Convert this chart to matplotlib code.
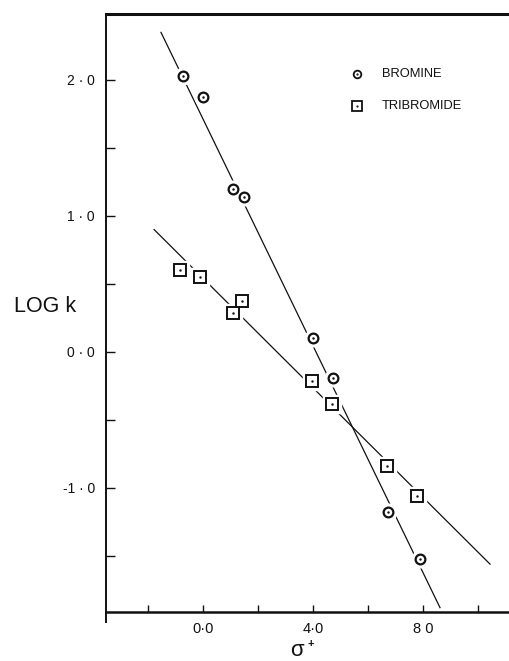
import matplotlib
matplotlib.use("Agg")
import matplotlib.pyplot as plt

# substituent constant (x10) and log k for each reagent
bromine_x = [-0.73, 0.0, 1.09, 1.49, 4.0, 4.73, 6.73, 7.9]
bromine_y = [2.03, 1.875, 1.2, 1.14, 0.10, -0.19, -1.18, -1.52]
tribromide_x = [-0.84, -0.1, 1.09, 1.42, 3.96, 4.69, 6.7, 7.8]
tribromide_y = [0.60, 0.55, 0.29, 0.375, -0.21, -0.38, -0.84, -1.06]

# end points of the fitted correlation lines
bromine_fit_x = [-1.53, 8.62]
bromine_fit_y = [2.35, -1.88]
tribromide_fit_x = [-1.78, 10.44]
tribromide_fit_y = [0.90, -1.56]

x_major = [0, 4, 8]
x_major_labels = ["0·0", "4·0", "8 0"]
x_minor = [-2, 2, 6, 10]
y_major = [2, 1, 0, -1]
y_major_labels = ["2 · 0", "1 · 0", "0 · 0", "-1 · 0"]
y_minor = [1.5, 0.5, -0.5, -1.5]

plt.rcParams["font.family"] = ["Liberation Sans", "DejaVu Sans"]

W, H = 509, 661
fig = plt.figure(figsize=(W / 100, H / 100), dpi=100)
ax = fig.add_axes([106 / W, (H - 612) / H, 1 - 106 / W, (612 - 14) / H])
ax.set_xlim(-3.53, 11.13)
ax.set_ylim(-1.912, 2.485)

ink = "#111111"

ax.plot(bromine_fit_x, bromine_fit_y, color=ink, lw=0.9, zorder=1)
ax.plot(tribromide_fit_x, tribromide_fit_y, color=ink, lw=0.9, zorder=1)

# white halos break the lines around each symbol
ax.plot(bromine_x, bromine_y, ls="none", marker="o", ms=12, mfc="white",
        mec="white", zorder=2)
ax.plot(tribromide_x, tribromide_y, ls="none", marker="s", ms=13, mfc="white",
        mec="white", zorder=2)

ax.plot(bromine_x, bromine_y, ls="none", marker="o", ms=7, mfc="white",
        mec=ink, mew=1.6, zorder=3)
ax.plot(tribromide_x, tribromide_y, ls="none", marker="s", ms=8, mfc="white",
        mec=ink, mew=1.4, zorder=3)
ax.plot(bromine_x + tribromide_x, bromine_y + tribromide_y, ls="none",
        marker=".", ms=1.5, color=ink, zorder=4)

# key
key_items = [("o", 5.5, "BROMINE", H - 74), ("s", 6.5, "TRIBROMIDE", H - 106)]
for mk, ms, label, ypix in key_items:
    yf = ypix / H
    fig.add_artist(plt.Line2D([357 / W], [yf], marker=mk, ms=ms, mfc="white",
                              mec=ink, mew=1.3, ls="none"))
    fig.add_artist(plt.Line2D([357 / W], [yf], marker=".", ms=1.2, color=ink,
                              ls="none"))
    fig.text(382 / W, yf, label, fontsize=9.3, va="center", ha="left",
             color=ink)

# spines
ax.spines["right"].set_visible(False)
ax.spines["top"].set_linewidth(2.2)
ax.spines["left"].set_linewidth(1.4)
ax.spines["bottom"].set_linewidth(1.8)
for s in ax.spines.values():
    s.set_color(ink)
ax.plot([0, 0], [0, -0.017], transform=ax.transAxes, color=ink, lw=1.4,
        clip_on=False)

ax.set_xticks(x_major)
ax.set_xticklabels(x_major_labels)
ax.set_xticks(x_minor, minor=True)
ax.set_yticks(y_major)
ax.set_yticklabels(y_major_labels)
ax.set_yticks(y_minor, minor=True)
ax.tick_params(axis="both", which="both", direction="in", color=ink,
               labelcolor=ink)
ax.tick_params(axis="x", which="both", length=5, width=1.0, pad=7,
               top=False, labelsize=10.5)
ax.tick_params(axis="y", which="both", length=6.5, width=1.0, pad=8,
               right=False, labelsize=10)

fig.text(14 / W, (H - 307) / H, "LOG k", fontsize=15.5, va="center",
         ha="left", color=ink)
fig.text(297 / W, (H - 650) / H, "σ", fontsize=16, va="center",
         ha="center", color=ink)
fig.text(311 / W, (H - 644) / H, "+", fontsize=8, va="center",
         ha="center", color=ink, fontweight="bold")

fig.savefig("out.png", dpi=100)
